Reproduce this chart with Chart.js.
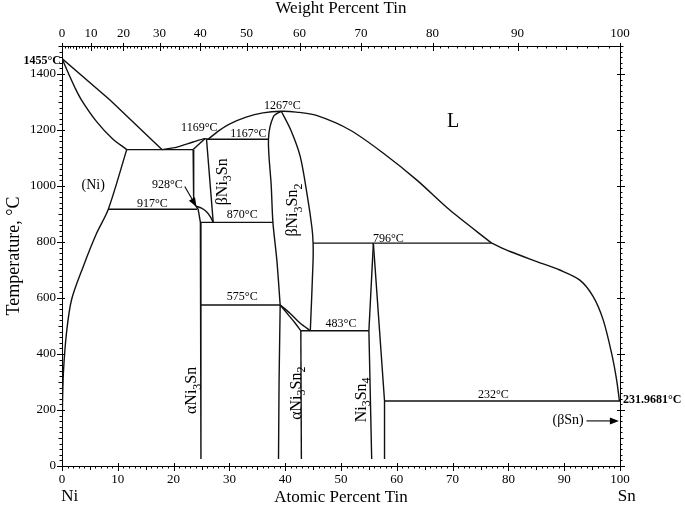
<!DOCTYPE html>
<html>
<head>
<meta charset="utf-8">
<script src="https://cdn.jsdelivr.net/npm/chart.js@4.4.0/dist/chart.umd.min.js"></script>
<style>
  html, body { margin: 0; padding: 0; background: #fff; }
</style>
</head>
<body>
<canvas id="phaseChart" width="685" height="510"></canvas>
<script>
// Ejes: % atómico abajo, % en peso arriba, temperatura a la izquierda
const atTicks = [0, 10, 20, 30, 40, 50, 60, 70, 80, 90, 100];
const wtTicks = [0, 10, 20, 30, 40, 50, 60, 70, 80, 90, 100];
const tempTicks = [0, 200, 400, 600, 800, 1000, 1200, 1400];

// Fronteras de fase: [at.% Sn, °C]
const niLiquidus = [[0, 1455], [8.6, 1307], [17.9, 1130]];
const niSolidus = [[0, 1455], [1.2, 1400], [2.3, 1352], [3.5, 1307], [6.2, 1230], [9, 1170], [11.6, 1130]];
const niSolvus = [[11.6, 1130], [8.3, 917], [6.2, 831], [3.8, 712], [1.7, 593], [0.8, 474], [0.25, 332], [0.07, 200], [0, 25]];
const eutectic1130 = [[11.6, 1130], [23.5, 1130]];
const liquidusLeft = [[17.9, 1130], [20.6, 1139], [23.5, 1157], [25.6, 1169], [26.1, 1167]];
const betaNi3SnLeftTop = [[23.5, 1130], [25.6, 1169]];
const betaNi3SnLeft = [[23.5, 1130], [23.6, 940], [24.0, 928]];
const betaNi3SnRight = [[25.9, 1167], [27.1, 870]];
const line1167 = [[25.9, 1167], [37.0, 1167]];
const liquidusRight = [[26.2, 1167], [28, 1196], [30, 1221], [33, 1246], [36, 1261], [39.3, 1267], [42, 1264], [45.6, 1252], [51.6, 1200], [57.6, 1117], [63.6, 1021], [69.5, 914], [77, 796]];
const alphaBetaNi3Sn = [[24.0, 928], [25.0, 921], [25.9, 908], [26.6, 890], [27.1, 870]];
const line917 = [[8.3, 917], [24.2, 917]];
const alphaNi3Sn = [[24.0, 928], [24.4, 917], [24.8, 870], [24.9, 575], [24.9, 25]];
const line870 = [[24.8, 870], [37.8, 870]];
const line575 = [[24.9, 575], [39.1, 575]];
const betaNi3Sn2Left = [[39.3, 1267], [37.9, 1248], [37.0, 1167], [37.5, 1000], [37.8, 870], [38.5, 736], [39.1, 575]];
const betaNi3Sn2Right = [[39.3, 1267], [41.0, 1200], [42.7, 1105], [44.0, 960], [44.8, 850], [45.0, 796], [45.0, 736], [44.5, 483]];
const alphaNi3Sn2Left = [[39.1, 575], [38.9, 300], [38.8, 25]];
const alphaUpper = [[39.1, 575], [40.9, 545], [42.7, 510], [44.5, 483]];
const alphaLower = [[39.1, 575], [40.6, 539], [41.8, 510], [42.8, 483]];
const alphaNi3Sn2Right = [[42.8, 483], [42.9, 25]];
const line483 = [[42.8, 483], [55.0, 483]];
const line796 = [[45.0, 796], [77.0, 796]];
const ni3Sn4Left = [[55.8, 796], [55.0, 483], [55.5, 25]];
const ni3Sn4Right = [[55.8, 796], [57.8, 232], [57.8, 25]];
const line232 = [[57.8, 232], [100, 232]];
const snLiquidus = [[77, 796], [80.3, 766], [85.1, 730], [89.2, 700], [92.8, 664], [95.2, 605], [97.0, 521], [98.5, 402], [99.4, 307], [99.9, 232]];

const straight = [niLiquidus, eutectic1130, betaNi3SnLeftTop, betaNi3SnLeft, betaNi3SnRight, line1167,
  line917, alphaNi3Sn, line870, line575, alphaNi3Sn2Left, alphaNi3Sn2Right, line483, line796,
  ni3Sn4Left, ni3Sn4Right, line232];
const curved = [niSolidus, niSolvus, liquidusLeft, liquidusRight, alphaBetaNi3Sn, betaNi3Sn2Left,
  betaNi3Sn2Right, alphaUpper, alphaLower, snLiquidus];

const SERIF = "'Liberation Serif', 'DejaVu Serif', serif";

// % en peso -> % atómico (Ni 58.69, Sn 118.71)
function wtToAt(w) {
  const sn = w / 118.71, ni = (100 - w) / 58.69;
  return 100 * sn / (sn + ni);
}

function makeDataset(pts, tension) {
  return {
    data: pts.map(p => ({ x: p[0], y: p[1] })),
    showLine: true,
    borderColor: "#111",
    borderWidth: 1.4,
    pointRadius: 0,
    tension: tension,
    fill: false,
  };
}

function drawArrow(ctx, x1, y1, x2, y2) {
  const ang = Math.atan2(y2 - y1, x2 - x1);
  ctx.beginPath();
  ctx.moveTo(x1, y1);
  ctx.lineTo(x2 - 6 * Math.cos(ang), y2 - 6 * Math.sin(ang));
  ctx.stroke();
  ctx.beginPath();
  ctx.moveTo(x2, y2);
  ctx.lineTo(x2 - 9 * Math.cos(ang) + 3.5 * Math.sin(ang), y2 - 9 * Math.sin(ang) - 3.5 * Math.cos(ang));
  ctx.lineTo(x2 - 9 * Math.cos(ang) - 3.5 * Math.sin(ang), y2 - 9 * Math.sin(ang) + 3.5 * Math.cos(ang));
  ctx.closePath();
  ctx.fill();
}

// texto con subíndices, girado 90°
function drawChem(ctx, parts, x, y, size) {
  const big = size + "px " + SERIF;
  const small = Math.round(size * 0.72) + "px " + SERIF;
  let w = 0;
  parts.forEach(p => { ctx.font = p[1] ? small : big; w += ctx.measureText(p[0]).width; });
  ctx.save();
  ctx.translate(x, y);
  ctx.rotate(-Math.PI / 2);
  ctx.textAlign = "left";
  ctx.textBaseline = "alphabetic";
  let cx = -w / 2;
  parts.forEach(p => {
    ctx.font = p[1] ? small : big;
    ctx.fillText(p[0], cx, p[1] ? size * 0.62 : size * 0.35);
    cx += ctx.measureText(p[0]).width;
  });
  ctx.restore();
}

const decorations = {
  id: "decorations",
  afterDraw(chart) {
    const { ctx, chartArea: a } = chart;
    const sx = chart.scales.x, sy = chart.scales.y;
    const X = v => sx.getPixelForValue(v);
    const Y = v => sy.getPixelForValue(v);
    ctx.save();
    ctx.strokeStyle = "#000";
    ctx.fillStyle = "#000";
    ctx.lineWidth = 1;

    // marcas de los ejes
    ctx.beginPath();
    for (let v = 0; v <= 100; v++) {
      const px = Math.round(X(v)) + 0.5;
      if (v % 10 === 0) { ctx.moveTo(px, a.bottom - 3); ctx.lineTo(px, a.bottom + 5); }
      else { ctx.moveTo(px, a.bottom); ctx.lineTo(px, a.bottom + (v % 5 === 0 ? 4 : 2.5)); }
      const pw = Math.round(X(wtToAt(v))) + 0.5;
      if (v % 10 === 0) { ctx.moveTo(pw, a.top - 3); ctx.lineTo(pw, a.top + 5); }
      else { ctx.moveTo(pw, a.top); ctx.lineTo(pw, a.top + (v % 5 === 0 ? 4 : 2.5)); }
    }
    for (let t = 0; t <= 1500; t += 20) {
      const py = Math.round(Y(t)) + 0.5;
      const major = t % 200 === 0;
      const len = major ? 5 : (t % 100 === 0 ? 3.5 : 2.5);
      ctx.moveTo(a.left - len, py); ctx.lineTo(a.left + (major ? 3 : 0), py);
      ctx.moveTo(a.right + len, py); ctx.lineTo(a.right - (major ? 3 : 0), py);
    }
    ctx.stroke();

    // temperaturas invariantes
    ctx.font = "12px " + SERIF;
    ctx.textAlign = "center";
    ctx.textBaseline = "middle";
    [["1169°C", 24.6, 1206], ["1167°C", 33.4, 1185], ["1267°C", 39.5, 1287],
     ["928°C", 18.9, 1004], ["917°C", 16.2, 936], ["870°C", 32.3, 896],
     ["796°C", 58.5, 813], ["575°C", 32.3, 605], ["483°C", 50.0, 506],
     ["232°C", 77.3, 254]].forEach(l => ctx.fillText(l[0], X(l[1]), Y(l[2])));

    ctx.font = "bold 12px " + SERIF;
    ctx.textAlign = "right";
    ctx.fillText("1455°C", X(0) - 1, Y(1455) + 2);
    ctx.textAlign = "left";
    ctx.fillText("231.9681°C", X(100) + 3, Y(232) - 1);

    // regiones
    ctx.textAlign = "center";
    ctx.font = "14px " + SERIF;
    ctx.fillText("(Ni)", X(5.6), Y(1004));
    ctx.fillText("(βSn)", X(90.7), Y(164));
    ctx.font = "20px " + SERIF;
    ctx.fillText("L", X(70.1), Y(1230));

    drawChem(ctx, [["β", 0], ["Ni", 0], ["3", 1], ["Sn", 0]], X(28.5), Y(1015), 16);
    drawChem(ctx, [["β", 0], ["Ni", 0], ["3", 1], ["Sn", 0], ["2", 1]], X(41.2), Y(914), 16);
    drawChem(ctx, [["α", 0], ["Ni", 0], ["3", 1], ["Sn", 0]], X(23.1), Y(270), 16);
    drawChem(ctx, [["α", 0], ["Ni", 0], ["3", 1], ["Sn", 0], ["2", 1]], X(41.8), Y(260), 16);
    drawChem(ctx, [["Ni", 0], ["3", 1], ["Sn", 0], ["4", 1]], X(53.5), Y(236), 16);

    // flechas
    ctx.lineWidth = 1.1;
    drawArrow(ctx, X(22.0), Y(998), X(24.1), Y(926));
    drawArrow(ctx, X(94.0), Y(161), X(99.8), Y(161));

    // Ni y Sn bajo el eje
    ctx.font = "17px " + SERIF;
    ctx.textBaseline = "middle";
    ctx.fillText("Ni", X(1.4), 497);
    ctx.fillText("Sn", X(101.2), 497);
    ctx.restore();
  },
};

const tickFont = { family: SERIF, size: 13 };
const titleFont = { family: SERIF, size: 17, lineHeight: 1 };
const plain = v => String(v);

new Chart(document.getElementById("phaseChart"), {
  type: "scatter",
  data: {
    datasets: straight.map(c => makeDataset(c, 0)).concat(curved.map(c => makeDataset(c, 0.3))),
  },
  options: {
    responsive: false,
    animation: false,
    layout: { padding: 0 },
    plugins: { legend: { display: false }, tooltip: { enabled: false } },
    scales: {
      x: {
        type: "linear", position: "bottom", min: 0, max: 100,
        afterBuildTicks: s => { s.ticks = atTicks.map(v => ({ value: v })); },
        afterFit: s => { s.height = 44; },
        grid: { display: false, drawTicks: false },
        border: { display: true, color: "#000", width: 1 },
        ticks: { padding: 6, font: tickFont, color: "#000", maxRotation: 0, autoSkip: false, callback: plain },
        title: { display: true, text: "Atomic Percent Tin", font: titleFont, color: "#000", padding: { top: 0, bottom: 4 } },
      },
      xTop: {
        type: "linear", position: "top", min: 0, max: 100,
        afterBuildTicks: s => { s.ticks = wtTicks.map(w => ({ value: wtToAt(w) })); },
        afterFit: s => { s.height = 46; },
        grid: { display: false, drawTicks: false },
        border: { display: true, color: "#000", width: 1 },
        ticks: { padding: 5, font: tickFont, color: "#000", maxRotation: 0, autoSkip: false,
                 callback: (v, i) => String(wtTicks[i]) },
        title: { display: true, text: "Weight Percent Tin", font: titleFont, color: "#000", padding: { top: 0, bottom: 0 } },
      },
      y: {
        type: "linear", position: "left", min: 0, max: 1500,
        afterBuildTicks: s => { s.ticks = tempTicks.map(v => ({ value: v })); },
        afterFit: s => { s.width = 62; },
        grid: { display: false, drawTicks: false },
        border: { display: true, color: "#000", width: 1 },
        ticks: { padding: 6, font: tickFont, color: "#000", autoSkip: false, callback: plain },
        title: { display: true, text: "Temperature, °C", font: { family: SERIF, size: 18, lineHeight: 1 }, color: "#000", padding: { top: 5, bottom: 0 } },
      },
      yRight: {
        type: "linear", position: "right", min: 0, max: 1500,
        afterFit: s => { s.width = 65; },
        grid: { display: false, drawTicks: false },
        border: { display: true, color: "#000", width: 1 },
        ticks: { display: false },
      },
    },
  },
  plugins: [decorations],
});
</script>
</body>
</html>
